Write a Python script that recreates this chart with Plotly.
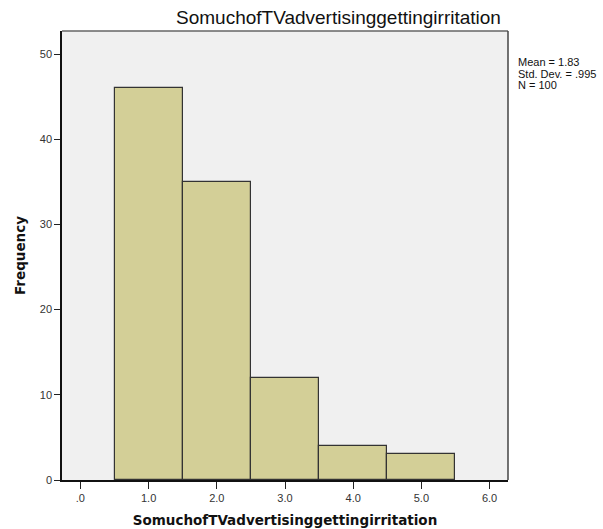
import plotly.graph_objects as go

bin_centers = [1, 2, 3, 4, 5]
counts = [46, 35, 12, 4, 3]
x_tick_vals = [0, 1, 2, 3, 4, 5, 6]
x_tick_text = [".0", "1.0", "2.0", "3.0", "4.0", "5.0", "6.0"]
y_tick_vals = [0, 10, 20, 30, 40, 50]
title_text = "SomuchofTVadvertisinggettingirritation"
stats_lines = ["Mean = 1.83", "Std. Dev. = .995", "N = 100"]

AX_FONT = "DejaVu Sans, Verdana, sans-serif"

fig = go.Figure()
fig.add_trace(go.Bar(
    x=bin_centers, y=counts, width=1,
    marker=dict(color="#d3cf97", line=dict(color="#333333", width=1.2)),
    showlegend=False, hoverinfo="x+y",
))

fig.update_layout(
    width=603, height=529,
    margin=dict(l=62, r=95, t=31, b=49),
    paper_bgcolor="white", plot_bgcolor="#f0f0f0",
    font=dict(family="Arial, Liberation Sans, sans-serif", color="#222"),
    bargap=0,
)
fig.update_xaxes(
    range=[-0.27, 6.27], tickvals=x_tick_vals, ticktext=x_tick_text,
    ticks="outside", ticklen=7, tickcolor="#222", tickwidth=1,
    showline=True, linecolor="#111", linewidth=1.5,
    showgrid=False, zeroline=False, automargin=False,
    tickfont=dict(size=11, color="#333"),
    title=dict(text="<b>" + title_text + "</b>", font=dict(family=AX_FONT, size=13.5, color="#111"), standoff=13),
)
fig.update_yaxes(
    range=[0, 52.7], tickvals=y_tick_vals,
    ticks="outside", ticklen=6, tickcolor="#222", tickwidth=1,
    showline=True, linecolor="#111", linewidth=1.5,
    showgrid=False, zeroline=False, automargin=False,
    tickfont=dict(size=11, color="#333"),
    title=dict(text="<b>Frequency</b>", font=dict(family=AX_FONT, size=13.5, color="#111"), standoff=11),
)
# top and right frame
fig.add_shape(type="line", xref="paper", yref="paper", x0=0, x1=1, y0=1, y1=1,
              line=dict(color="#666", width=1.5))
fig.add_shape(type="line", xref="paper", yref="paper", x0=1, x1=1, y0=0, y1=1,
              line=dict(color="#444", width=1.5))
fig.add_annotation(
    text=title_text, xref="paper", yref="paper",
    x=(338 - 62) / 446, y=1, yshift=14, xanchor="center", yanchor="middle",
    showarrow=False, font=dict(size=19, color="#111"),
)
for i, line in enumerate(stats_lines):
    fig.add_annotation(
        text=line, xref="paper", yref="paper",
        x=1, xshift=8, y=1, yshift=-23 - 11.5 * i, xanchor="left", yanchor="top", align="left",
        showarrow=False, font=dict(size=11, color="#111"),
    )
fig.write_html("out.html", config={"displayModeBar": False},
               post_script="document.body.style.margin='0';")
